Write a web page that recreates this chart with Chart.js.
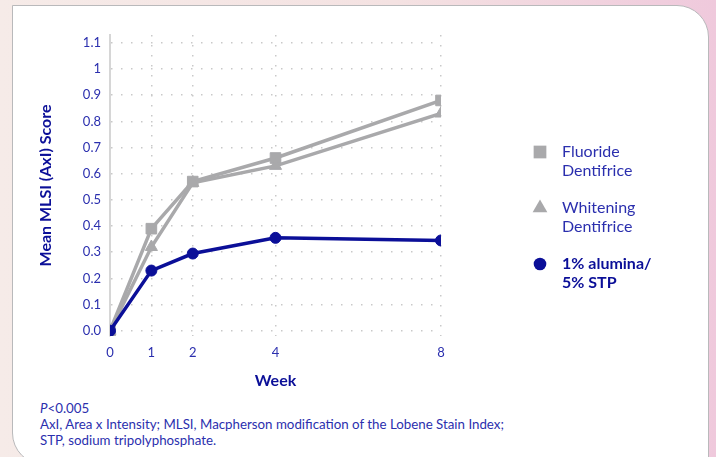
<!DOCTYPE html>
<html>
<head>
<meta charset="utf-8">
<title>MLSI score by week</title>
<script src="https://cdn.jsdelivr.net/npm/chart.js@4.4.1/dist/chart.umd.min.js"></script>
<style>
  html, body { margin: 0; padding: 0; }
  body {
    width: 716px; height: 457px; overflow: hidden; position: relative;
    background: linear-gradient(90deg, #f6ebe8 0%, #f4e2e2 55%, #efc9dc 100%);
    font-family: Lato, sans-serif;
  }
  .card {
    position: absolute; left: 12px; top: 5px; width: 697px; height: 460px;
    background: #fff; border: 1.5px solid #b9b9bb; box-sizing: border-box;
    border-radius: 0 32px 0 32px;
  }
  #wrap { position: absolute; left: 0; top: 0; width: 716px; height: 400px; }
  .note {
    position: absolute; left: 40px; top: 400px;
    font-size: 13.3px; line-height: 16px; color: #2b2fae;
  }
</style>
</head>
<body>
<div class="card"></div>
<div id="wrap"><canvas id="myChart" width="716" height="400"></canvas></div>
<div class="note">
  <i>P</i>&lt;0.005<br>
  AxI, Area x Intensity; MLSI, Macpherson modification of the Lobene Stain Index;<br>
  STP, sodium tripolyphosphate.
</div>
<script>
const weeks = [0, 1, 2, 4, 8];
const fluoride = [0, 0.39, 0.57, 0.66, 0.88];
const whitening = [0, 0.32, 0.565, 0.63, 0.83];
const alumina = [0, 0.23, 0.295, 0.355, 0.345];

const seriesNames = ['Fluoride Dentifrice', 'Whitening Dentifrice', '1% alumina/ 5% STP'];
const legendLines = [['Fluoride', 'Dentifrice'], ['Whitening', 'Dentifrice'], ['1% alumina/', '5% STP']];

const yTicks = [0, 0.1, 0.2, 0.3, 0.4, 0.5, 0.6, 0.7, 0.8, 0.9, 1, 1.1];
const yTickLabels = ['0.0', '0.1', '0.2', '0.3', '0.4', '0.5', '0.6', '0.7', '0.8', '0.9', '1', '1.1'];
const xTicks = [0, 1, 2, 4, 8];

const GREY = '#a9a9ab';
const NAVY = '#0b0f98';
const TICK_BLUE = '#2b2fae';

const toPoints = vals => vals.map((v, i) => ({x: weeks[i], y: v}));

// legend on the right, two lines per entry
const sideLegend = {
  id: 'sideLegend',
  afterDraw(chart, args, opts){
    const ctx = chart.ctx;
    chart.data.datasets.forEach((ds, i) => {
      const y = opts.top + i * opts.gap;
      ctx.save();
      ctx.fillStyle = ds.pointBackgroundColor;
      Chart.helpers.drawPoint(ctx, {pointStyle: ds.pointStyle, radius: opts.sizes[i], borderWidth: 0, rotation: 0}, opts.x, y);
      ctx.fillStyle = i === 2 ? NAVY : TICK_BLUE;
      ctx.font = (i === 2 ? 'bold ' : '') + opts.fontSize + 'px Lato';
      ctx.textBaseline = 'middle';
      legendLines[i].forEach((line, j) => ctx.fillText(line, opts.textX, y + j * opts.lineGap));
      ctx.restore();
    });
  }
};

const ctx = document.getElementById('myChart').getContext('2d');

const myChart = new Chart(ctx, {
  type: 'line',
  data: {
    datasets: [{
      label: seriesNames[0],
      data: toPoints(fluoride),
      borderColor: GREY,
      backgroundColor: GREY,
      pointBackgroundColor: GREY,
      pointBorderColor: GREY,
      pointStyle: 'rect',
      pointRadius: 7.5,
      order: 3
    }, {
      label: seriesNames[1],
      data: toPoints(whitening),
      borderColor: GREY,
      backgroundColor: GREY,
      pointBackgroundColor: GREY,
      pointBorderColor: GREY,
      pointStyle: 'triangle',
      pointRadius: 7,
      order: 2
    }, {
      label: seriesNames[2],
      data: toPoints(alumina),
      borderColor: NAVY,
      backgroundColor: NAVY,
      pointBackgroundColor: NAVY,
      pointBorderColor: NAVY,
      pointStyle: 'circle',
      pointRadius: 5.5,
      order: 1
    }]
  },
  options: {
    responsive: false,
    animation: false,
    events: [],
    elements: {
      line: {borderWidth: 3.5, tension: 0},
      point: {borderWidth: 1}
    },
    layout: {padding: {left: 32, top: 35, right: 275, bottom: 0}},
    plugins: {
      legend: {display: false},
      tooltip: {enabled: false},
      sideLegend: {x: 540, textX: 562, top: 152, gap: 56, lineGap: 19, fontSize: 16, sizes: [9, 8.5, 6.3]}
    },
    scales: {
      x: {
        type: 'linear',
        min: 0,
        max: 8,
        afterBuildTicks: s => { s.ticks = xTicks.map(v => ({value: v})); },
        afterFit: s => { s.height = 64; },
        grid: {color: '#c9c9c9', lineWidth: 1.5, drawTicks: false},
        border: {display: false, dash: [1.5, 8.5]},
        ticks: {color: TICK_BLUE, padding: 9, font: {family: 'Lato', size: 13}},
        title: {
          display: true, text: 'Week', color: NAVY,
          font: {family: 'Lato', size: 16, weight: 'bold'},
          padding: {top: 0, bottom: 10}
        }
      },
      y: {
        min: -0.02,
        max: 1.13,
        afterBuildTicks: s => { s.ticks = yTicks.map(v => ({value: v})); },
        afterFit: s => { s.width = 78; },
        grid: {color: '#c9c9c9', lineWidth: 1.5, drawTicks: false},
        border: {display: true, color: '#d6d6d6', width: 2, dash: [1.5, 8.5]},
        ticks: {
          color: TICK_BLUE, padding: 9, font: {family: 'Lato', size: 13},
          callback: (v, i) => yTickLabels[i]
        },
        title: {
          display: true, text: 'Mean MLSI (AxI) Score', color: NAVY,
          font: {family: 'Lato', size: 16, weight: 'bold'},
          padding: {top: 4, bottom: 4}
        }
      }
    }
  },
  plugins: [sideLegend]
});
</script>
</body>
</html>
